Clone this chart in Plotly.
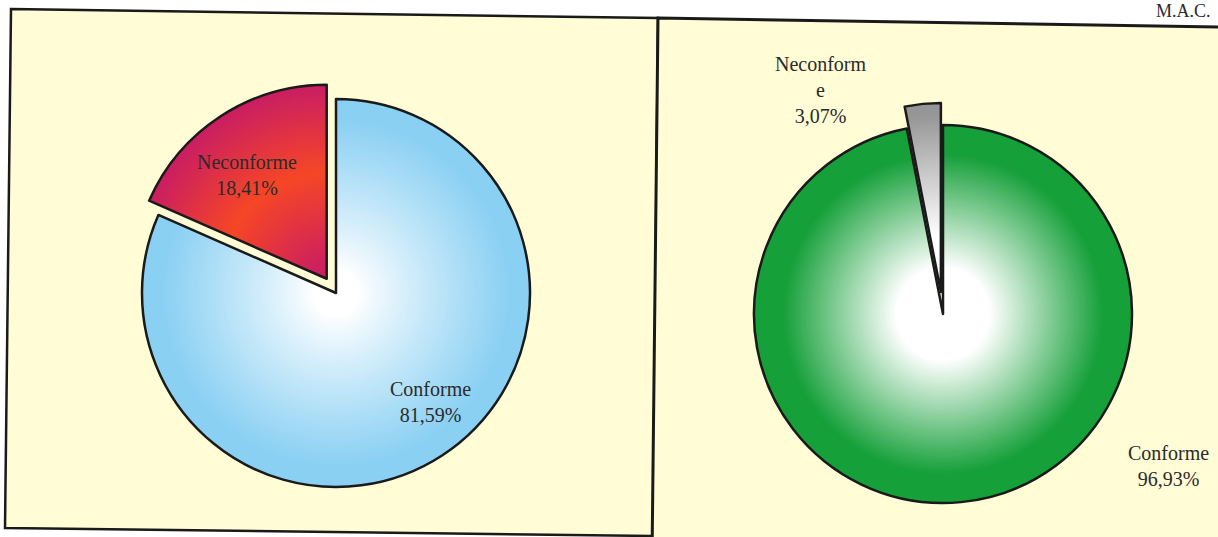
import plotly.graph_objects as go

# ---------------- data ----------------
categories = ["Conforme", "Neconforme"]
left_values = [81.59, 18.41]
right_values = [96.93, 3.07]
left_labels = ["Conforme<br>81,59%", "Neconforme<br>18,41%"]
right_labels = ["Conforme<br>96,93%", "Neconform<br>e<br>3,07%"]
corner_text = "M.A.C."

# ---------------- layout helpers ----------------
W, H = 1218, 537


def px(x):
    return x / W


def py(y):
    return 1 - y / H


def mix(c0, c1, f):
    f = max(0.0, min(1.0, f))
    return "rgb(%d,%d,%d)" % tuple(round(a + (b - a) * f) for a, b in zip(c0, c1))


def clamp(v):
    return max(0.0, min(1.0, v))


WHITE = (255, 255, 255)
BLUE = (138, 208, 243)
GREEN = (22, 160, 58)
GRAY = (150, 150, 150)
MAGENTA = (202, 30, 98)
ORANGE = (246, 70, 38)


def blue_col(t):
    return mix(WHITE, BLUE, clamp((t - 0.12) / 0.78) ** 0.9)


def green_col(t):
    return mix(WHITE, GREEN, clamp((t - 0.25) / 0.6))


def gray_col(t):
    return mix(WHITE, GRAY, clamp((t - 0.3) / 0.65))


def red_col(t):
    if t < 0.55:
        return mix(MAGENTA, ORANGE, clamp((t - 0.05) / 0.5))
    return mix(ORANGE, MAGENTA, clamp((t - 0.55) / 0.45))


fig = go.Figure()

N = 90


def add_pie(values, cx, cy, R, off, col_conf, col_nec):
    for i in range(N):
        r = R * (1 - i / N)
        if r < off * 1.01:
            break
        t = r / R
        s = r + off
        fig.add_trace(go.Pie(
            labels=categories, values=values, sort=False,
            direction="clockwise", rotation=0,
            pull=[0, off / r],
            marker=dict(colors=[col_conf(t), col_nec(t)], line=dict(width=0)),
            textinfo="none", hoverinfo="skip", showlegend=False,
            domain=dict(x=[px(cx - s), px(cx + s)], y=[py(cy + s), py(cy - s)]),
        ))
    s = R + off
    fig.add_trace(go.Pie(
        labels=categories, values=values, sort=False,
        direction="clockwise", rotation=0,
        pull=[0, off / R],
        marker=dict(colors=["rgba(0,0,0,0)", "rgba(0,0,0,0)"],
                    line=dict(color="#1a1a1a", width=2.5)),
        textinfo="none", hoverinfo="skip", showlegend=False,
        domain=dict(x=[px(cx - s), px(cx + s)], y=[py(cy + s), py(cy - s)]),
    ))


add_pie(left_values, 336, 293, 194, 17, blue_col, red_col)
add_pie(right_values, 943, 314, 189, 22, green_col, gray_col)

PANEL = "rgb(255,252,214)"


def path(pts):
    return "M " + " L ".join("%.5f,%.5f" % (px(x), py(y)) for x, y in pts) + " Z"


shapes = [
    dict(type="path", xref="paper", yref="paper", layer="below",
         path=path([(11, 9), (658, 18), (653, 536), (5, 528)]),
         fillcolor=PANEL, line=dict(color="#1a1a1a", width=2.5)),
    dict(type="path", xref="paper", yref="paper", layer="below",
         path=path([(658, 18), (1225, 27), (1225, 560), (652, 560)]),
         fillcolor=PANEL, line=dict(color="#1a1a1a", width=3)),
]

font = dict(family="Liberation Serif, Times New Roman, serif", size=20, color="#2b2b2b")
annotations = [
    dict(x=px(430), y=py(402), text=left_labels[0]),
    dict(x=px(247), y=py(175), text=left_labels[1]),
    dict(x=px(1168), y=py(466), text=right_labels[0]),
    dict(x=px(821), y=py(90), text=right_labels[1]),
]
for a in annotations:
    a.update(xref="paper", yref="paper", showarrow=False, font=font,
             xanchor="center", yanchor="middle")
annotations.append(dict(x=px(1183), y=py(0), xref="paper", yref="paper",
                        text=corner_text, showarrow=False,
                        font=dict(family=font["family"], size=18, color="#2b2b2b"),
                        xanchor="center", yanchor="top", borderpad=0))

fig.update_layout(
    width=W, height=H, margin=dict(l=0, r=0, t=0, b=0),
    paper_bgcolor="white", plot_bgcolor="white",
    shapes=shapes, annotations=annotations, showlegend=False,
)

fig.write_html("out.html", config={"displayModeBar": False})

# remove the browser's default page margin so the figure sits at the window origin
with open("out.html", encoding="utf-8") as f:
    html = f.read()
html = html.replace("<head>", "<head><style>html,body{margin:0;padding:0;overflow:hidden}</style>", 1)
with open("out.html", "w", encoding="utf-8") as f:
    f.write(html)
